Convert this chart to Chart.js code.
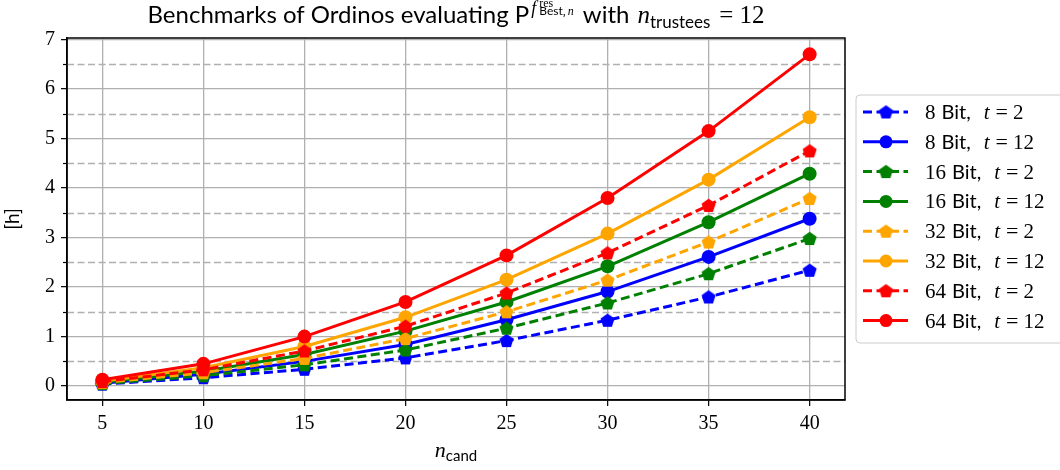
<!DOCTYPE html>
<html>
<head>
<meta charset="utf-8">
<script src="https://cdn.jsdelivr.net/npm/chart.js@4.4.0/dist/chart.umd.min.js"></script>
<style>
  html, body { margin: 0; padding: 0; background: #fff; }
  #wrap { width: 1060px; height: 470px; position: relative; }
</style>
</head>
<body>
<div id="wrap"><canvas id="chart" width="1060" height="470"></canvas></div>
<script>
// данные
const nCand = [5, 10, 15, 20, 25, 30, 35, 40];
const xTicks = [5, 10, 15, 20, 25, 30, 35, 40];
const yTicks = [0, 1, 2, 3, 4, 5, 6, 7];
const yMinorTicks = [0.5, 1.5, 2.5, 3.5, 4.5, 5.5, 6.5];

const bit8_t2   = [0.04, 0.17, 0.34, 0.57, 0.92, 1.33, 1.80, 2.34];
const bit8_t12  = [0.06, 0.24, 0.50, 0.84, 1.34, 1.91, 2.61, 3.38];
const bit16_t2  = [0.05, 0.21, 0.43, 0.73, 1.17, 1.68, 2.27, 2.98];
const bit16_t12 = [0.08, 0.30, 0.64, 1.11, 1.70, 2.42, 3.31, 4.29];
const bit32_t2  = [0.07, 0.27, 0.56, 0.96, 1.50, 2.14, 2.91, 3.79];
const bit32_t12 = [0.10, 0.37, 0.80, 1.39, 2.15, 3.08, 4.17, 5.43];
const bit64_t2  = [0.09, 0.33, 0.71, 1.21, 1.88, 2.69, 3.65, 4.75];
const bit64_t12 = [0.13, 0.45, 1.00, 1.70, 2.64, 3.80, 5.15, 6.70];

const seriesLabels = ['8 Bit, t = 2', '8 Bit, t = 12', '16 Bit, t = 2', '16 Bit, t = 12',
                      '32 Bit, t = 2', '32 Bit, t = 12', '64 Bit, t = 2', '64 Bit, t = 12'];
const seriesValues = [bit8_t2, bit8_t12, bit16_t2, bit16_t12, bit32_t2, bit32_t12, bit64_t2, bit64_t12];
const seriesColors = ['#0000ff', '#0000ff', '#008000', '#008000', '#ffa500', '#ffa500', '#ff0000', '#ff0000'];

const SANS = 'Lato, "Liberation Sans", sans-serif';
const SERIF = '"Liberation Serif", "DejaVu Serif", serif';

// пятиугольник как картинка для pointStyle
function pentagon(color, r) {
  const c = document.createElement('canvas');
  const size = Math.ceil(r * 2 + 2);
  c.width = size; c.height = size;
  const g = c.getContext('2d');
  g.beginPath();
  for (let k = 0; k < 5; k++) {
    const a = -Math.PI / 2 + k * 2 * Math.PI / 5;
    const px = size / 2 + r * Math.cos(a);
    const py = size / 2 + 0.6 + r * Math.sin(a);
    if (k === 0) g.moveTo(px, py); else g.lineTo(px, py);
  }
  g.closePath();
  g.fillStyle = color;
  g.fill();
  return c;
}

const datasets = seriesValues.map((vals, i) => {
  const dashed = i % 2 === 0;
  return {
    label: seriesLabels[i],
    data: nCand.map((x, j) => ({ x: x, y: vals[j] })),
    borderColor: seriesColors[i],
    backgroundColor: seriesColors[i],
    borderWidth: 3,
    borderDash: dashed ? [9, 4.5] : [],
    pointStyle: dashed ? pentagon(seriesColors[i], 7.4) : 'circle',
    pointRadius: 7,
    pointBorderWidth: 0,
    pointBackgroundColor: seriesColors[i],
    tension: 0,
    fill: false,
    order: seriesValues.length - i
  };
});

// текст из кусков разными шрифтами
function runWidth(ctx, runs) {
  let w = 0;
  runs.forEach(r => {
    if (r.noAdvance) return;
    ctx.font = r.font;
    w += ctx.measureText(r.text).width + (r.gap || 0);
  });
  return w;
}
function drawRuns(ctx, runs, x, y) {
  runs.forEach(r => {
    ctx.font = r.font;
    ctx.fillText(r.text, x + (r.dx || 0), y + (r.dy || 0));
    if (!r.noAdvance) x += ctx.measureText(r.text).width + (r.gap || 0);
  });
  return x;
}

const decorPlugin = {
  id: 'decor',
  beforeDatasetsDraw(chart) {
    const { ctx, chartArea: a, scales } = chart;
    ctx.save();
    ctx.strokeStyle = '#b0b0b0';
    ctx.lineWidth = 1.3;
    ctx.setLineDash([7, 3.5]);
    yMinorTicks.forEach(v => {
      const y = Math.round(scales.y.getPixelForValue(v)) + 0.5;
      ctx.beginPath(); ctx.moveTo(a.left, y); ctx.lineTo(a.right, y); ctx.stroke();
    });
    ctx.setLineDash([]);
    ctx.strokeStyle = '#000';
    ctx.lineWidth = 1.2;
    yMinorTicks.forEach(v => {
      const y = Math.round(scales.y.getPixelForValue(v)) + 0.5;
      ctx.beginPath(); ctx.moveTo(a.left - 4, y); ctx.lineTo(a.left, y); ctx.stroke();
    });
    ctx.restore();
  },
  afterDatasetsDraw(chart) {
    const { ctx, chartArea: a } = chart;
    ctx.save();
    ctx.strokeStyle = '#000';
    ctx.lineWidth = 1.5;
    ctx.strokeRect(a.left, a.top, a.right - a.left, a.bottom - a.top);
    ctx.restore();
  },
  afterDraw(chart) {
    const { ctx, chartArea: a } = chart;
    const cx = (a.left + a.right) / 2;
    ctx.save();
    ctx.fillStyle = '#000';
    ctx.textBaseline = 'alphabetic';

    // заголовок
    const title = [
      { text: 'Benchmarks of Ordinos evaluating P', font: '24px ' + SANS, gap: 2 },
      { text: 'f', font: 'italic 18px ' + SERIF, dy: -9, gap: 3 },
      { text: 'res', font: '12px ' + SERIF, dy: -16, noAdvance: true },
      { text: 'Best', font: '12px ' + SANS, dy: -8 },
      { text: ',', font: '12px ' + SERIF, dy: -8, gap: 2 },
      { text: 'n', font: 'italic 12px ' + SERIF, dy: -8, gap: 9 },
      { text: 'with', font: '24px ' + SANS, gap: 8 },
      { text: 'n', font: 'italic 25px ' + SERIF },
      { text: 'trustees', font: '17px ' + SANS, dy: 5, gap: 9 },
      { text: '=', font: '25px ' + SERIF, gap: 6 },
      { text: '12', font: '25px ' + SERIF }
    ];
    drawRuns(ctx, title, cx - runWidth(ctx, title) / 2, 23);

    // подпись оси x
    const xl = [
      { text: 'n', font: 'italic 22px ' + SERIF },
      { text: 'cand', font: '15px ' + SANS, dy: 4 }
    ];
    drawRuns(ctx, xl, cx - runWidth(ctx, xl) / 2, 457);

    // подпись оси y
    ctx.translate(19, (a.top + a.bottom) / 2);
    ctx.rotate(-Math.PI / 2);
    ctx.font = '19px ' + SANS;
    ctx.textAlign = 'center';
    ctx.fillText('[h]', 0, 0);
    ctx.restore();

    // легенда
    ctx.save();
    const lx = 856, ly = 95, lw = 220, lh = 248;
    ctx.beginPath();
    ctx.roundRect(lx, ly, lw, lh, 4);
    ctx.fillStyle = 'rgba(255,255,255,0.8)';
    ctx.fill();
    ctx.strokeStyle = '#cccccc';
    ctx.lineWidth = 1;
    ctx.stroke();
    chart.data.datasets.forEach((ds, i) => {
      const y = 112 + i * 29.8;
      ctx.strokeStyle = ds.borderColor;
      ctx.lineWidth = ds.borderWidth;
      ctx.setLineDash(ds.borderDash);
      ctx.beginPath(); ctx.moveTo(863, y); ctx.lineTo(908, y); ctx.stroke();
      ctx.setLineDash([]);
      if (ds.pointStyle === 'circle') {
        ctx.fillStyle = ds.borderColor;
        ctx.beginPath(); ctx.arc(886, y, 6.5, 0, Math.PI * 2); ctx.fill();
      } else {
        const img = ds.pointStyle;
        ctx.drawImage(img, 886 - img.width / 2, y - img.height / 2);
      }
      const m = ds.label.match(/^(\d+) Bit, t = (\d+)$/);
      ctx.fillStyle = '#000';
      drawRuns(ctx, [
        { text: m[1], font: '21px ' + SERIF, gap: 6 },
        { text: 'Bit,', font: '20px ' + SANS, gap: 13 },
        { text: 't', font: 'italic 21px ' + SERIF, gap: 6 },
        { text: '=', font: '22px ' + SERIF, gap: 5 },
        { text: m[2], font: '21px ' + SERIF }
      ], 925, y + 7);
    });
    ctx.restore();
  }
};

const chart = new Chart(document.getElementById('chart'), {
  type: 'line',
  data: { datasets: datasets },
  options: {
    responsive: false,
    animation: false,
    devicePixelRatio: 1,
    layout: { padding: { left: 0, right: 215, top: 38, bottom: 0 } },
    plugins: {
      legend: { display: false },
      tooltip: { enabled: false },
      title: { display: false }
    },
    scales: {
      x: {
        type: 'linear',
        min: 3.25,
        max: 41.75,
        afterBuildTicks: s => { s.ticks = xTicks.map(v => ({ value: v })); },
        afterFit: s => { s.height = 70; },
        grid: { color: '#b0b0b0', lineWidth: 1.3, tickColor: '#000', tickLength: 6, tickWidth: 1.2 },
        border: { display: true, color: '#000', width: 1.5 },
        ticks: { color: '#000', font: { family: SERIF, size: 20 }, padding: 6, maxRotation: 0 }
      },
      y: {
        type: 'linear',
        min: -0.28,
        max: 7.03,
        afterBuildTicks: s => { s.ticks = yTicks.map(v => ({ value: v })); },
        afterFit: s => { s.width = 67; },
        grid: { color: '#b0b0b0', lineWidth: 1.3, tickColor: '#000', tickLength: 6, tickWidth: 1.2 },
        border: { display: true, color: '#000', width: 1.5 },
        ticks: { color: '#000', font: { family: SERIF, size: 20 }, padding: 6 }
      }
    }
  },
  plugins: [decorPlugin]
});
</script>
</body>
</html>
